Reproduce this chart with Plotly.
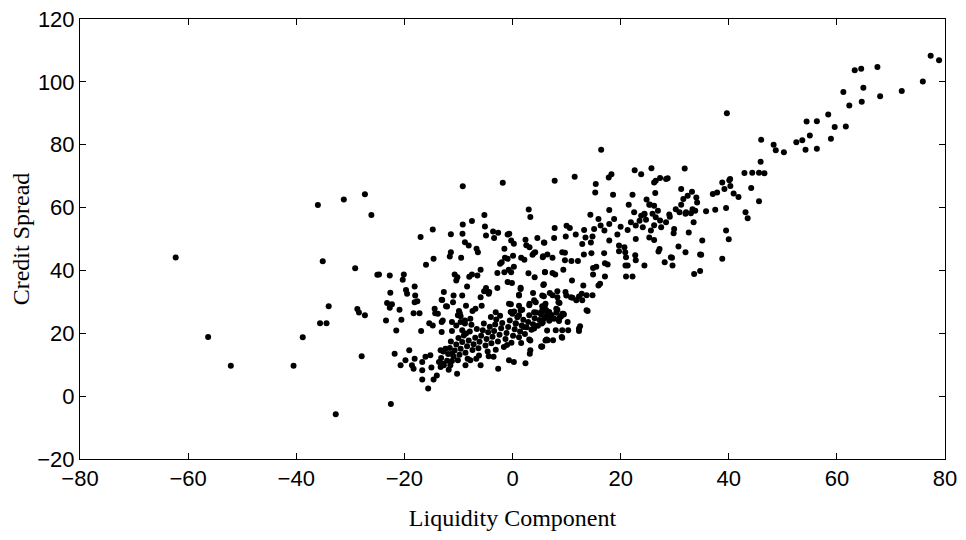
import plotly.graph_objects as go

# Left-side outliers
x_outliers = [-62.3, -56.3, -52.1, -40.5, -38.8, -36.0, -31.2, -27.3, -26.1, -35.1, -29.1, -25.0,
              -34.0, -28.7, -28.4, -27.3, -35.6, -34.4, -27.9, -32.7, -22.5]
y_outliers = [44.1, 18.8, 9.7, 9.7, 18.7, 60.8, 62.6, 64.2, 57.6, 42.9, 40.7, 38.6,
              28.6, 27.7, 26.6, 25.7, 23.2, 23.2, 12.7, -5.8, -2.5]

# Left-centre cloud (x -25 .. 6)
x_left = [-16.0, -14.6, -11.6, -11.4, -9.5, -6.4, -1.4, -0.9, 0.1, 1.6, 2.2, 3.7, 4.2, 5.6, -2.0, -2.3,
          -24.7, -22.7, -20.1, -20.3, -10.7, -10.2, -10.4, -8.0, -7.5, -6.5, -5.9, -2.8, -1.5, -0.7, -0.25,
          0.25, 2.95, 4.1, 6.0, -0.9, -0.1, -8.4, -4.9, -5.25, -4.3, -2.8, 1.5, 5.7, 1.2,
          -18.1, -19.7, -19.5, -22.6, -18.0, -12.7, -10.9, -9.3, -8.6, -13.0, -12.1, -11.0, -18.1, -17.6,
          -23.2, -22.3, -22.7, -20.9, -18.3, -17.2, -14.4, -14.3, -13.8, -9.75, -10.1, -6.85, -5.7, -3.1,
          -0.65, 1.2, 3.15, 4.3, 1.8, 5.8, 6.1,
          -23.4, -20.55, -21.5, -16.9, -15.4, -14.75, -13.1, -12.9, -13.1, -11.2, -11.2, -10.4, -9.6, -8.8,
          -7.8, -9.3, -8.6,
          -21.8, -19.1, -19.8, -20.7, -18.6, -18.3, -18.1, -16.7, -16.1, -15.2, -16.7, -15.0, -15.6, -16.7,
          -14.6, -14.0, -13.3, -12.7, -13.6, -13.3, -12.4, -11.8, -11.5, -10.25, -11.2, -10.1, -8.7, -7.8,
          -6.7, -5.9, -4.4, -3.5, -2.65, -0.65, 0.25, 2.4, 3.3, 3.3, 5.3, 6.1, 6.4,
          -12.3, -9.9, -9.6, -7.4, -8.8, -0.35, 6.0, 8.1, 9.4, 10.2, 3.2, -13.0, -11.2, -13.1, -5.9, -4.4, 3.8]
y_left = [41.8, 43.7, 44.4, 45.8, 44.0, 45.8, 44.0, 43.7, 44.7, 44.0, 43.4, 45.0, 45.8, 44.2, 42.6, 42.1,
          38.7, 38.4, 38.7, 37.0, 38.7, 37.8, 36.8, 38.0, 38.7, 38.4, 40.2, 39.2, 39.4, 40.2, 39.4,
          41.2, 39.1, 37.8, 39.4, 36.3, 36.0, 34.9, 34.4, 33.4, 33.1, 34.4, 34.1, 35.4, 32.3,
          34.9, 33.8, 32.6, 32.9, 32.0, 33.1, 32.0, 32.0, 28.8, 30.6, 28.5, 29.9, 29.9, 30.2,
          29.6, 29.2, 28.1, 27.5, 26.4, 26.4, 27.8, 26.4, 26.2, 26.4, 25.7, 27.8, 28.8, 26.7,
          29.4, 28.8, 29.4, 29.9, 27.5, 27.5, 29.4,
          24.1, 24.3, 20.9, 20.7, 23.2, 22.5, 23.6, 24.1, 20.4, 23.6, 20.7, 22.5, 23.6, 24.1,
          24.6, 21.0, 19.9,
          13.5, 14.6, 11.4, 9.8, 9.8, 8.7, 11.9, 10.9, 12.5, 13.0, 8.2, 9.1, 2.4, 5.3,
          5.3, 6.6, 9.3, 9.8, 10.9, 14.6, 15.1, 8.4, 9.8, 7.1, 13.5, 11.4, 9.8, 11.4,
          11.9, 9.8, 12.7, 12.5, 8.7, 11.4, 10.9, 10.5, 14.6, 17.7, 15.8, 17.7, 20.9,
          28.6, 27.1, 25.4, 27.1, 23.1, 26.8, 28.9, 27.8, 26.2, 23.6, 13.5, 10.4, 11.2, 30.7, 31.5, 32.6, 32.8]

# Dense lower band
x_band = [-13.2, -12.8, -12.1, -11.9, -11.6, -10.9, -10.7, -10.4, -9.8, -9.6, -9.3, -9.0, -8.7, -8.4, -8.1,
          -7.9, -7.4, -7.2, -6.9, -6.6, -6.3, -6.1, -5.8, -5.5, -5.3, -5.0, -4.8, -4.5, -4.2, -3.9, -3.7,
          -3.4, -3.2, -3.0, -2.7, -2.4, -2.1, -1.9, -1.6, -1.3, -1.1, -0.8, -0.5, -0.2, 0.1, 0.4, 0.6, 0.9,
          1.2, 1.4, 1.7, 2.0, 2.3, 2.6, 2.9, 3.1, 3.5, 3.8, 4.1, 4.4, 4.7, 5.0, 5.3, 5.6, 6.0, 6.3, 6.8,
          7.2, 7.7, 8.1, 8.6, 9.0, -6.2, -4.6, -3.1, -8.3, -1.0, 1.6, -10.0, -11.4, -2.3, 0.3, -7.6, -4.0,
          4.0, 5.5, 8.5, 10.8, 12.3, 13.7, 9.2, 8.6, 6.8, 5.5, 4.0, 3.1, 1.5, 1.2, -0.3, 0.0, 0.6, 2.1,
          4.0, 3.1, 5.5, 6.5, 9.1, 12.3, 1.2, 1.5]
y_band = [12.1, 14.2, 11.3, 13.4, 15.3, 12.6, 14.5, 16.4, 13.2, 15.1, 17.2, 19.3, 13.8, 15.9, 17.7,
          20.6, 14.7, 16.5, 18.6, 21.4, 15.2, 17.3, 19.2, 21.0, 23.1, 16.1, 18.2, 20.3, 22.1, 16.8, 18.9,
          20.7, 22.8, 24.4, 17.4, 19.5, 21.6, 23.3, 15.6, 18.2, 20.1, 22.0, 24.1, 17.0, 19.2, 21.3, 23.2, 25.1,
          18.7, 20.6, 22.5, 24.3, 19.8, 21.9, 23.6, 25.7, 21.1, 22.9, 24.8, 26.6, 22.4, 24.2, 26.0, 23.4, 25.3,
          27.2, 24.0, 25.8, 24.6, 26.5, 23.9, 25.4, 12.9, 14.2, 14.8, 11.9, 16.3, 16.9, 18.5, 17.4, 25.6, 26.9,
          22.7, 25.2,
          30.5, 32.0, 29.9, 31.5, 31.7, 27.3, 26.2, 24.6, 25.7, 27.3, 26.7, 28.9, 27.3, 25.7, 29.2, 26.2, 23.0, 22.0,
          21.5, 18.0, 15.8, 17.8, 18.8, 21.5, 32.0, 34.5]

# Upper-centre cloud (x -17 .. 6, y 45 .. 70)
x_upper = [-9.2, -1.8, -5.2, 3.0, 3.3, -9.2, -7.5, -5.1, -17.0, -14.75, -11.4, -9.25, -8.8, -8.1, -6.65,
           -4.9, -3.6, -3.4, -2.65, -0.9, -0.6, -0.25, 0.25, -1.5, 2.4, 2.55, 3.15, 4.6, 5.9, 3.95]
y_upper = [66.8, 67.9, 57.6, 59.4, 57.0, 54.6, 55.7, 54.0, 50.6, 53.0, 51.5, 51.7, 49.0, 47.9, 46.9,
           51.1, 52.4, 50.3, 52.0, 51.4, 51.7, 49.5, 48.5, 46.9, 49.8, 48.0, 47.4, 50.3, 48.8, 45.5]

# Middle cloud (x 5 .. 36, y 15 .. 46)
x_mid = [6.45, 7.4, 5.65, 9.2, 9.7, 9.7, 10.9, 12.1, 13.2, 14.6, 16.95, 14.9, 15.5, 14.9, 17.1, 17.6, 17.1,
         19.7, 20.85, 21.0, 22.7, 22.8, 20.9, 21.3, 21.0, 22.2, 24.4, 27.0, 28.15, 29.5, 29.6, 32.0, 34.7,
         33.6, 34.7, 6.0, 7.4, 7.9, 9.4, 5.8, 11.0, 13.1, 16.2, 15.9, 5.8, 6.9, 7.4, 8.3, 8.3, 9.8, 9.95,
         11.1, 11.8, 12.8, 12.9, 13.7, 14.8, 8.7, 5.5, 6.15, 5.2, 6.45, 7.1, 8.3, 9.5, 8.75, 13.9, 5.4,
         8.0, 9.2, 10.3, 12.5, 12.3, 9.2, 6.3, 7.5, 5.4, 5.6, 6.8, 5.9, 38.8]
y_mid = [45.1, 44.0, 44.5, 45.8, 45.6, 43.2, 43.0, 43.0, 45.1, 45.5, 45.5, 40.8, 41.2, 38.7, 42.3, 41.9, 38.1,
         46.1, 45.8, 44.2, 44.8, 43.2, 41.6, 41.6, 38.1, 38.1, 41.6, 46.0, 42.6, 44.0, 41.6, 45.8, 45.1,
         38.9, 39.8, 39.5, 39.2, 38.7, 40.2, 35.6, 36.8, 35.2, 35.8, 35.2, 31.8, 32.8, 32.1, 33.4, 31.5, 33.1, 32.0,
         31.3, 30.5, 32.6, 30.5, 32.1, 32.1, 29.6, 28.6, 27.5, 26.4, 25.7, 24.6, 27.5, 26.0, 25.0, 27.1, 23.1,
         21.0, 21.0, 21.0, 22.2, 20.7, 18.6, 18.0, 17.8, 15.7, 27.0, 26.8, 24.8, 43.7]

# Upper arm (x 5 .. 46, y 44 .. 79)
x_arm = [16.4, 7.8, 11.5, 15.4, 15.3, 17.8, 18.3, 18.6, 22.6, 23.8, 25.7, 31.85, 26.2, 26.5, 27.3, 28.4, 28.7,
         26.4, 22.2, 21.5, 24.8, 25.3, 26.2, 17.9, 14.4, 15.9, 22.5, 23.8, 24.4, 26.9, 26.5, 29.1, 30.2, 31.2,
         31.6, 32.4, 33.2, 34.0, 34.15, 33.8, 32.1, 33.3, 35.8, 37.5, 37.05, 37.85, 38.8, 39.2, 40.1, 40.3,
         40.9, 41.8, 39.5, 33.5, 32.6, 29.9, 29.8, 28.4, 27.5, 26.2, 25.6, 24.1, 23.5, 22.8, 21.9, 21.3, 20.0,
         19.4, 18.8, 17.9, 17.0, 16.3, 15.1, 14.8, 13.25, 13.5, 11.7, 10.6, 10.0, 7.8, 7.7, 5.8, 9.85, 12.9,
         14.5, 17.9, 19.7, 20.7, 22.8, 25.3, 26.2, 27.2, 30.7, 35.1, 39.5, 40.0, 34.9, 29.3,
         31.2, 24.4, 24.7, 25.9, 25.4, 27.3, 29.0, 30.9, 32.0, 33.0,
         44.15, 45.6, 43.1, 43.5]
y_arm = [78.4, 68.5, 69.8, 67.5, 64.8, 69.6, 70.6, 64.1, 71.9, 70.6, 72.5, 72.4, 68.0, 68.5, 69.4, 69.1, 69.3,
         64.6, 64.1, 60.9, 62.6, 60.9, 60.6, 59.2, 57.7, 56.4, 58.5, 57.4, 57.9, 59.0, 56.9, 57.1, 59.5, 60.9,
         62.7, 63.8, 65.0, 63.2, 61.6, 59.0, 58.5, 59.5, 58.8, 59.3, 64.3, 64.8, 68.0, 65.9, 68.7, 66.9,
         64.5, 63.4, 59.9, 55.3, 52.1, 53.2, 51.8, 55.3, 53.7, 54.4, 52.7, 53.7, 55.8, 54.3, 55.3, 52.9, 53.9,
         51.4, 56.4, 54.8, 52.7, 54.3, 53.2, 50.8, 52.9, 50.5, 51.4, 53.5, 54.2, 53.5, 50.3, 48.9, 50.8, 48.4,
         48.9, 49.5, 47.9, 47.4, 50.0, 50.5, 49.7, 46.8, 47.6, 49.5, 52.7, 49.9, 45.0, 44.2,
         65.9, 58.0, 56.1, 58.0, 61.0, 55.9, 57.8, 58.5, 58.0, 58.2,
         66.25, 62.0, 58.5, 56.6]

# Upper-right tail
x_right = [39.65, 77.35, 78.9, 75.9, 67.5, 63.3, 64.5, 64.9, 61.2, 68.0, 72.0, 64.6, 62.3, 58.4, 54.4, 56.3,
           59.6, 61.65, 55.0, 58.9, 52.5, 53.6, 54.2, 56.3, 46.0, 48.3, 48.7, 50.2, 45.9, 42.9, 44.35, 45.6,
           46.6, 40.25]
y_right = [90.0, 108.3, 106.9, 100.1, 104.7, 103.7, 104.2, 98.1, 96.8, 95.4, 97.1, 93.7, 92.5, 89.6, 87.4, 87.5,
           85.6, 85.8, 82.9, 81.9, 80.8, 81.4, 78.4, 78.7, 81.6, 80.0, 78.2, 77.6, 74.6, 71.0, 71.1, 71.1,
           70.9, 69.1]

x_ticks = [-80, -60, -40, -20, 0, 20, 40, 60, 80]
y_ticks = [-20, 0, 20, 40, 60, 80, 100, 120]

liquidity = x_outliers + x_left + x_band + x_upper + x_mid + x_arm + x_right
spread = y_outliers + y_left + y_band + y_upper + y_mid + y_arm + y_right

fig = go.Figure(go.Scatter(
    x=liquidity, y=spread, mode="markers",
    marker=dict(color="black", size=6, line=dict(width=0)),
    hoverinfo="skip", showlegend=False, cliponaxis=False))

tick_font = dict(family="Liberation Sans Narrow, Liberation Sans, Arial, sans-serif", size=22, color="black")
title_font = dict(family="Liberation Serif, DejaVu Serif, serif", size=24, color="black")

axis_common = dict(showline=True, linecolor="black", linewidth=1, mirror="ticks",
                   ticks="inside", ticklen=6, tickwidth=1, tickcolor="black",
                   showgrid=False, zeroline=False, tickfont=tick_font,
                   automargin=False, ticklabeloverflow="allow")

fig.update_xaxes(range=[-80, 80], tickvals=x_ticks, ticktext=[str(v).replace("-", "\u2212") for v in x_ticks],
                 title=dict(text="Liquidity Component", font=title_font, standoff=18), **axis_common)
fig.update_yaxes(range=[-20, 120], tickvals=y_ticks, ticktext=[str(v).replace("-", "\u2212") for v in y_ticks],
                 title=dict(text="Credit Spread", font=title_font, standoff=6), **axis_common)

# page body adds an 8px margin, so the figure is sized to sit inside the window
fig.update_layout(width=950, height=524, margin=dict(l=72, r=13, t=11, b=73),
                  plot_bgcolor="white", paper_bgcolor="white")

fig.write_html("out.html")
